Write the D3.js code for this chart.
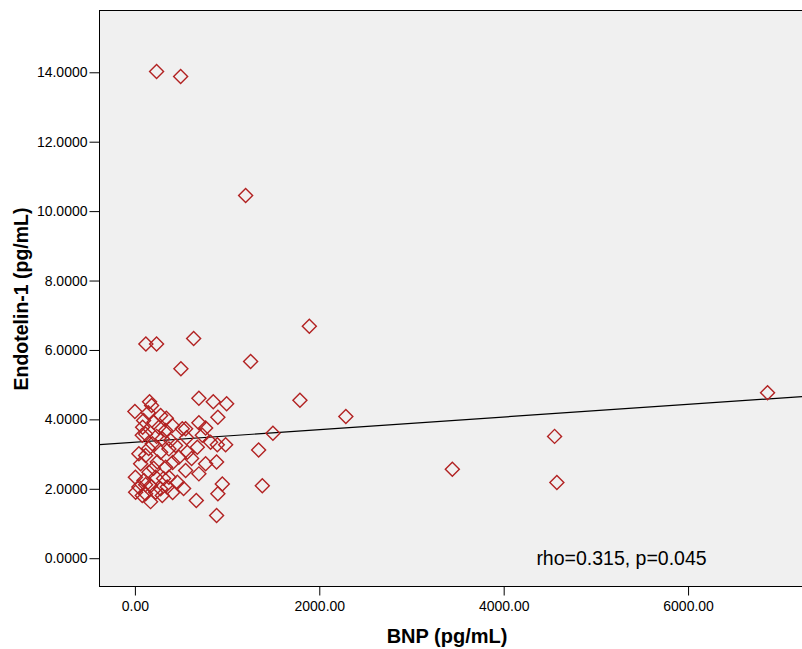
<!DOCTYPE html>
<html>
<head>
<meta charset="utf-8">
<script src="https://cdn.jsdelivr.net/npm/d3@7"></script>
<style>
  body { margin: 0; background: #fff; }
  svg { display: block; font-family: "Liberation Sans", Arial, sans-serif; }
</style>
</head>
<body>
<div id="chart-area"></div>
<script>
// BNP (pg/mL)
var bnp = [
    235, 496, 1201, 1892, 1255, 637, 119, 235, 499, 1790, 2288, 1497, 1342, 1382,
    6862, 4552, 3443, 4577,
    694, 850, 995, 900, 550, 694, 767, 731, 821, 894, 984, 677, 568, 550, 694,
    767, 886, 948, 900, 666, 886,
    159, 181, 0, 145, 341, 406, 206, 260, 116, 80, 514, 297, 189, 43, 116, 243,
    369, 441, 477, 62, 333, 152, 5, 225, 98, 369, 460, 43, 170, 279, 8, 116, 225,
    351, 170, 80, 297,
    279, 94, 333, 235, 387, 149, 279, 409, 203, 311, 116, 409, 561, 615, 528, 84
];
// Endotelin-1 (pg/mL)
var et1 = [
    14.02, 13.88, 10.45, 6.68, 5.67, 6.33, 6.17, 6.17, 5.46, 4.55, 4.08, 3.60, 3.12, 2.09,
    4.77, 3.51, 2.56, 2.18,
    4.61, 4.51, 4.45, 4.06, 3.73, 3.90, 3.75, 3.54, 3.34, 3.27, 3.27, 3.20, 3.05, 2.53, 2.43,
    2.72, 2.77, 2.14, 1.86, 1.66, 1.23,
    4.51, 4.40, 4.23, 4.19, 4.03, 3.82, 3.92, 3.77, 3.58, 3.54, 3.73, 3.44, 3.30, 3.01, 2.96, 2.77,
    3.15, 3.25, 2.91, 2.72, 2.62, 2.48, 2.33, 2.33, 2.24, 2.33, 2.19, 2.05, 2.09, 2.00, 1.90, 1.86, 1.90,
    2.05, 1.63, 1.81, 1.81,
    4.11, 3.97, 3.68, 3.51, 3.39, 3.16, 3.05, 2.76, 2.59, 2.30, 2.12, 1.89, 3.47, 2.87, 2.01, 3.77
];
var xTicks = [0, 2000, 4000, 6000];
var yTicks = [0, 2, 4, 6, 8, 10, 12, 14];
// fit line
var fitIntercept = 3.34;
var fitSlope = 0.000182;
var statText = "rho=0.315, p=0.045";

var data = bnp.map(function(d, i) { return { x: d, y: et1[i] }; });

var margin = { left: 99.5, right: 0, top: 10.5, bottom: 63 };
var width = 704,
    height = 576;

var svg = d3.select("#chart-area")
    .append("svg")
    .attr("width", 802)
    .attr("height", 649);

var g = svg.append("g")
    .attr("transform", "translate(" + margin.left + "," + margin.top + ")");

// Scales
var x = d3.scaleLinear()
    .domain([-384, 7252])
    .range([0, width]);
var y = d3.scaleLinear()
    .domain([-0.815, 15.78])
    .range([height, 0]);

// plot background
g.append("rect")
    .attr("width", width)
    .attr("height", height)
    .attr("fill", "#f0f0f0")
    .attr("stroke", "#000")
    .attr("stroke-width", 1);

g.append("clipPath")
    .attr("id", "clip")
    .append("rect")
    .attr("width", width)
    .attr("height", height);

// X Axis
var xAxisCall = d3.axisBottom(x)
    .tickValues(xTicks)
    .tickSize(9)
    .tickPadding(6)
    .tickFormat(d3.format(".2f"));
var xAxis = g.append("g")
    .attr("transform", "translate(0," + height + ")")
    .call(xAxisCall);

// Y Axis
var yAxisCall = d3.axisLeft(y)
    .tickValues(yTicks)
    .tickSize(10)
    .tickPadding(2)
    .tickFormat(d3.format(".4f"));
var yAxis = g.append("g")
    .call(yAxisCall);

[xAxis, yAxis].forEach(function(a) {
    a.select(".domain").remove();
    a.selectAll("line").attr("stroke", "#000");
    a.selectAll("text")
        .attr("fill", "#000")
        .attr("font-size", "14px")
        .attr("font-family", "'Liberation Sans', Arial, sans-serif");
});

// fit line
var x0 = x.domain()[0], x1 = x.domain()[1];
g.append("line")
    .attr("clip-path", "url(#clip)")
    .attr("x1", x(x0))
    .attr("y1", y(fitIntercept + fitSlope * x0))
    .attr("x2", x(x1))
    .attr("y2", y(fitIntercept + fitSlope * x1))
    .attr("stroke", "#000")
    .attr("stroke-width", 1.2);

// points
var diamond = d3.symbol().type(d3.symbolSquare).size(98);
g.selectAll("path.pt")
    .data(data)
    .enter()
    .append("path")
    .attr("class", "pt")
    .attr("d", diamond)
    .attr("transform", function(d) {
        return "translate(" + x(d.x) + "," + y(d.y) + ") rotate(45)";
    })
    .attr("fill", "none")
    .attr("stroke", "#b22222")
    .attr("stroke-width", 1.4);

// stat annotation
g.append("text")
    .attr("x", 522)
    .attr("y", 554)
    .attr("font-size", "19.5px")
    .attr("text-anchor", "middle")
    .attr("fill", "#000")
    .text(statText);

// Labels
svg.append("text")
    .attr("x", 447)
    .attr("y", 643)
    .attr("font-size", "20px")
    .attr("font-weight", "bold")
    .attr("text-anchor", "middle")
    .text("BNP (pg/mL)");

svg.append("text")
    .attr("transform", "translate(28,299) rotate(-90)")
    .attr("font-size", "19.5px")
    .attr("font-weight", "bold")
    .attr("text-anchor", "middle")
    .text("Endotelin-1 (pg/mL)");
</script>
</body>
</html>
